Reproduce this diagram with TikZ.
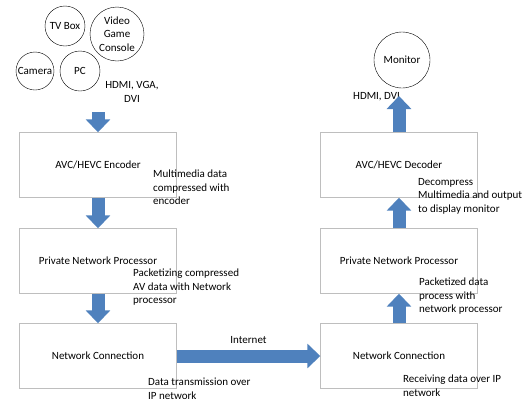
\documentclass[tikz,border=0pt]{standalone}
\usepackage{fontspec}
\setmainfont{Carlito}
\usetikzlibrary{arrows.meta}

\definecolor{arrowblue}{RGB}{79,129,189}
\definecolor{boxgray}{RGB}{190,190,190}

\tikzset{
	device/.style={draw, circle, thin, inner sep=0pt, align=center},
	stage/.style={draw=boxgray, rectangle, minimum width=157pt, minimum height=65pt},
	note/.style={anchor=north west, inner sep=0pt, align=left},
	blockarrow/.style={draw=arrowblue, line width=13pt, -{Triangle[length=13pt, width=24pt]}}
}

\begin{document}
\begin{tikzpicture}[x=1pt, y=-1pt, font=\fontsize{11}{13.4}\selectfont]
			\useasboundingbox (0,0) rectangle (528,405);

			% sources
			\node[device, minimum size=40pt]	(tvbox)		at (65,26)	{TV Box};
			\node[device, minimum size=54pt]	(console)	at (117,34)	{Video\\Game\\Console};
			\node[device, minimum size=38pt]	(camera)	at (35,71)	{Camera};
			\node[device, minimum size=40pt]	(pc)		at (80,71)	{PC};
			\node[align=center, inner sep=0pt]	(srclabel)	at (132,92)	{HDMI, VGA,\\DVI};
			\coordinate (srcout) at (98,112);

			% sender side
			\node[stage]	(encoder)	at (98,165)		{AVC/HEVC Encoder};
			\node[stage]	(sendproc)	at (98,261)		{Private Network Processor};
			\node[stage]	(sendnet)	at (98,356)		{Network Connection};

			% receiver side
			\node[stage]	(recvnet)	at (399,356)	{Network Connection};
			\node[stage]	(recvproc)	at (399,261)	{Private Network Processor};
			\node[stage]	(decoder)	at (399,165)	{AVC/HEVC Decoder};
			\node[device, minimum size=56pt]	(monitor)	at (402,60)	{Monitor};
			\coordinate (monin) at (399,96);

			% notes
			\node[note]	(encnote)	at (153,170)	{Multimedia data\\compressed with\\encoder};
			\node[note]	(procnote)	at (133,269)	{Packetizing compressed\\AV data with Network\\processor};
			\node[note]	(txnote)	at (148,378)	{Data transmission over\\IP network};
			\node[note]	(rxnote)	at (403,375)	{Receiving data over IP\\network};
			\node[note]	(pktnote)	at (419,278)	{Packetized data\\process with\\network processor};
			\node[note]	(decnote)	at (418,178)	{Decompress\\Multimedia and output\\to display monitor};
			\node[note]	(monlabel)	at (353,92)		{HDMI, DVI};

			% block arrows
			\draw[blockarrow]	(srcout)			--	(encoder.north);
			\draw[blockarrow]	(encoder.south)		--	(sendproc.north);
			\draw[blockarrow]	(sendproc.south)	--	(sendnet.north);
			\draw[blockarrow]	(sendnet.east)		--	node[above=6pt, inner sep=0pt] (inetlabel) {Internet} (recvnet.west);
			\draw[blockarrow]	(recvnet.north)		--	(recvproc.south);
			\draw[blockarrow]	(recvproc.north)	--	(decoder.south);
			\draw[blockarrow]	(decoder.north)		--	(monin);
		\end{tikzpicture}
\end{document}
